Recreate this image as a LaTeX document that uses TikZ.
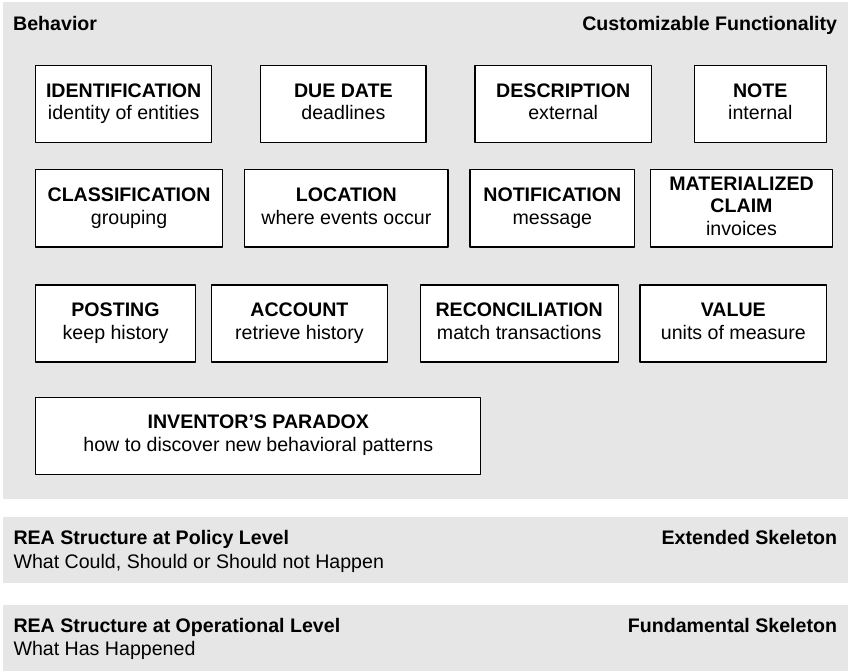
\documentclass[tikz,border=0pt]{standalone}
\usepackage{fontspec}
\setmainfont{Liberation Sans}
\definecolor{panelgray}{RGB}{230,230,230}

\begin{document}
\begin{tikzpicture}[line join=round, x=1pt, y=-1pt]
    \tikzset{
        every node/.style={font=\fontsize{19.6}{22.5}\selectfont, inner sep=0pt},
        fnbox/.style={draw, fill=white, line width=1.2pt, align=center, minimum height=77},
        heading/.style={font=\fontsize{19.6}{22.5}\selectfont\bfseries},
    }
    \useasboundingbox (0,0) rectangle (848,671);
    % layers
    \fill[panelgray] (3,2) rectangle (848,499.3);
    \fill[panelgray] (3,517.3) rectangle (848,582.7);
    \fill[panelgray] (3,605) rectangle (848,671);
    \node[heading, anchor=base west] (behavior) at (13,30.7) {Behavior};
    \node[heading, anchor=base east] (custom) at (837.3,30.7) {Customizable Functionality};
    % row 1
    \node[fnbox, minimum width=176.0] (ident) at (123.7,104) {\strut\textbf{IDENTIFICATION}\\identity of entities\strut};
    \node[fnbox, minimum width=165.3] (duedate) at (343.4,104) {\strut\textbf{DUE DATE}\\deadlines\strut};
    \node[fnbox, minimum width=176.3] (descr) at (563.2,104) {\strut\textbf{DESCRIPTION}\\external\strut};
    \node[fnbox, minimum width=132.0] (note) at (760.3,104) {\strut\textbf{NOTE}\\internal\strut};
    % row 2
    \node[fnbox, minimum width=186.8] (classif) at (129.1,208.4) {\strut\textbf{CLASSIFICATION}\\grouping\strut};
    \node[fnbox, minimum width=203.3] (location) at (346.4,208.4) {\strut\textbf{LOCATION}\\where events occur\strut};
    \node[fnbox, minimum width=164.6] (notif) at (552.3,208.4) {\strut\textbf{NOTIFICATION}\\message\strut};
    \node[fnbox, minimum width=181.6] (matclaim) at (741.5,208.4) {\strut\textbf{MATERIALIZED}\\\textbf{CLAIM}\\invoices\strut};
    % row 3
    \node[fnbox, minimum width=159.6] (posting) at (115.5,323.5) {\strut\textbf{POSTING}\\keep history\strut};
    \node[fnbox, minimum width=175.6] (account) at (299.4,323.5) {\strut\textbf{ACCOUNT}\\retrieve history\strut};
    \node[fnbox, minimum width=198.0] (reconc) at (519.2,323.5) {\strut\textbf{RECONCILIATION}\\match transactions\strut};
    \node[fnbox, minimum width=186.6] (value) at (733.3,323.5) {\strut\textbf{VALUE}\\units of measure\strut};
    % row 4
    \node[fnbox, minimum width=445.1] (inventor) at (258.3,435.7) {\strut\textbf{INVENTOR’S PARADOX}\\how to discover new behavioral patterns\strut};
    % lower layers
    \node[heading, anchor=base west] (policy) at (13.3,544) {REA Structure at Policy Level};
    \node[anchor=base west] (policysub) at (13.3,568.3) {What Could, Should or Should not Happen};
    \node[heading, anchor=base east] (extended) at (837.2,544) {Extended Skeleton};
    \node[heading, anchor=base west] (oper) at (13.3,632.7) {REA Structure at Operational Level};
    \node[anchor=base west] (opersub) at (13.3,655.7) {What Has Happened};
    \node[heading, anchor=base east] (fundamental) at (837.2,632.7) {Fundamental Skeleton};
\end{tikzpicture}
\end{document}
